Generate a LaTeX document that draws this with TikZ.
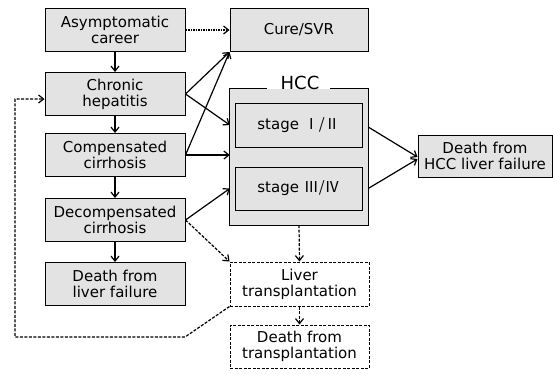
\documentclass[tikz,border=0pt]{standalone}
\usepackage{fontspec}
\setmainfont{DejaVu Sans}
\newfontfamily\jpfont{Noto Sans CJK JP}
\usetikzlibrary{calc,arrows.meta}

\begin{document}
\begin{tikzpicture}[x=1pt, y=-1pt,
	box/.style={draw, line width=1pt, fill=gray!22, minimum width=140, minimum height=43, align=center, inner sep=1pt, font=\fontsize{15}{16}\selectfont},
	tbox/.style={box, fill=white, dash pattern=on 3pt off 1.5pt},
	link/.style={-{Straight Barb[length=5pt, width=8pt]}, line width=1.2pt},
	dlink/.style={link, dash pattern=on 3pt off 1.5pt}]
\useasboundingbox (0,0) rectangle (553,373);

% linke Spalte
\foreach \name/\y/\txt in {asym/30/{Asymptomatic\\career}, chr/94/{Chronic\\hepatitis}, comp/155/{Compensated\\cirrhosis}, decomp/220/{Decompensated\\cirrhosis}, dlf/284/{Death from\\liver failure}}{
	\node[box] (\name) at (115,\y) {\txt};
}
\foreach \a/\b in {asym/chr, chr/comp, comp/decomp, decomp/dlf}{
	\draw[link] (\a) -- (\b);
}

\node[box, minimum width=138] (cure) at (299,30) {Cure/SVR};

% HCC
\node[fill=gray!22, minimum width=138, minimum height=136, inner sep=0pt] (hcc) at (299,157) {};
\draw[line width=1.2pt] ($(hcc.north)+(-32,0)$) -| (hcc.south west) -| (hcc.north east) -- ($(hcc.north)+(31,0)$);
\node[font=\fontsize{18}{19}\selectfont] (hcclbl) at (300,83) {HCC};
\node[box, minimum width=127, minimum height=44] (s12) at (298.5,125) {stage {\jpfont Ⅰ/Ⅱ}};
\node[box, minimum width=127] (s34) at (298.5,188.5) {stage {\jpfont Ⅲ/Ⅳ}};

\node[box, minimum width=134, minimum height=42] (dhcc) at (485,156) {Death from\\HCC liver failure};

\node[tbox, minimum width=139, minimum height=44] (lt) at (299.5,284) {Liver\\transplantation};
\node[tbox, minimum width=139] (dt) at (299.5,346.5) {Death from\\transplantation};

\draw[link, dash pattern=on 1.5pt off 1pt] (asym) -- (cure);
\draw[link] (chr.east) -- (cure.south west);
\draw[link] (chr.east) -- (hcc.west |- s12);
\draw[link] (comp.east) -- (cure.south west);
\draw[link] (comp.east) -- (hcc.west |- comp.east);
\draw[link] (decomp.east) -- (hcc.west |- s34);
\draw[dlink] (decomp.east) -- (lt.north west);
\draw[link] ($(hcc.east |- s12)+(0,2)$) -- ($(dhcc.west)+(0,1)$);
\draw[link] (hcc.east |- s34) -- ($(dhcc.west)+(0,3)$);
\draw[dlink] (hcc.south) -- (lt.north);
\draw[dlink] (lt.south) -- (dt.north);

% zurueck zur Hepatitis
\coordinate (lb) at (185,337);
\coordinate (lbl) at (15,337);
\coordinate (ltl) at (15,99);
\draw[dlink] (lt.south west) -- (lb) -- (lbl) -- (ltl) -- (ltl -| chr.west);

\end{tikzpicture}
\end{document}
